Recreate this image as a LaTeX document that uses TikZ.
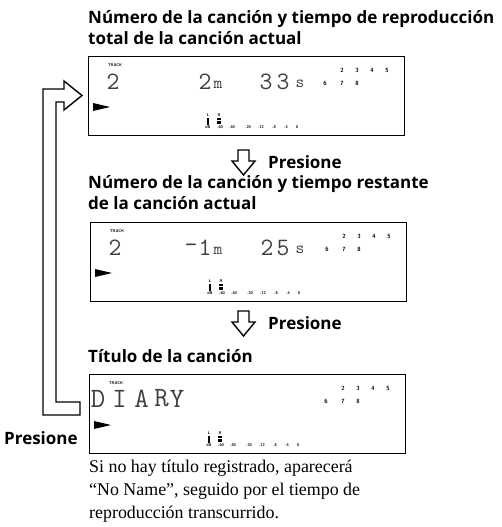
\documentclass[tikz,border=0pt]{standalone}
\usepackage{fontspec}
\newfontfamily\capfont{Open Sans}
\newfontfamily\bodyfont{Liberation Serif}
\usetikzlibrary{calc}
\newcommand\lcdcommon[1]{%
  \node[tagtxt,font=\sffamily\bfseries\fontsize{4}{4}\selectfont] (#1-trk) at (27,9) {TRACK};
  \node[tagtxt] (#1-n2) at (254,14) {2};
  \node[tagtxt] (#1-n3) at (269,14) {3};
  \node[tagtxt] (#1-n4) at (284,14) {4};
  \node[tagtxt] (#1-n5) at (299,14) {5};
  \node[tagtxt] (#1-n6) at (237,27) {6};
  \node[tagtxt] (#1-n7) at (254,27) {7};
  \node[tagtxt] (#1-n8) at (269,27) {8};
  \fill (5,47) -- (22,51) -- (5,55) -- cycle;
  \node[tinytxt] (#1-L) at (120,59.5) {L};
  \fill (118.6,62) rectangle (121.4,68.5);
  \node[tinytxt] (#1-R) at (131,59.5) {R};
  \fill (129.4,61.5) rectangle (132.6,64);
  \fill (129.4,65) rectangle (132.6,67.5);
  \node[tinytxt] (#1-s1) at (120,71) {dB};
  \node[tinytxt] (#1-s2) at (132,71) {-60};
  \node[tinytxt] (#1-s3) at (144,71) {-40};
  \node[tinytxt] (#1-s4) at (160,71) {-20};
  \node[tinytxt] (#1-s5) at (173,71) {-12};
  \node[tinytxt] (#1-s6) at (186,71) {-8};
  \node[tinytxt] (#1-s7) at (198,71) {-4};
  \node[tinytxt] (#1-s8) at (209,71) {0};
}
\begin{document}
\begin{tikzpicture}[x=1pt,y=-1pt,
  captxt/.style={anchor=base west, inner sep=0pt, font=\capfont\bfseries\fontsize{17}{20}\selectfont},
  bodytext/.style={anchor=base west, inner sep=0pt, font=\bodyfont\fontsize{17.9}{20}\selectfont},
  lcdbox/.style={draw, line width=1.1pt, inner sep=0pt, anchor=north west, minimum width=316pt, minimum height=79pt},
  segtxt/.style={inner sep=0pt, text=black!75, font=\ttfamily\fontsize{25}{25}\selectfont},
  segsm/.style={inner sep=0pt, text=black!75, font=\ttfamily\fontsize{17}{17}\selectfont},
  segdm/.style={inner sep=0pt, text=black!75, font=\ttfamily\fontsize{28}{28}\selectfont},
  tagtxt/.style={inner sep=0pt, font=\sffamily\bfseries\fontsize{6}{6}\selectfont},
  tinytxt/.style={inner sep=0pt, font=\sffamily\bfseries\fontsize{4}{4}\selectfont},
  outl/.style={draw, line width=1.4pt, line join=miter},
  downarr/.pic={\draw[outl] (-5.5,0) -- (5.5,0) -- (5.5,11) -- (11.5,11) -- (0,25) -- (-11.5,11) -- (-5.5,11) -- cycle;}
  ]
\useasboundingbox (0,0) rectangle (501,527);

% captions
\node[captxt] (c1a) at (88,24) {Número de la canción y tiempo de reproducción};
\node[captxt] (c1b) at (88,45) {total de la canción actual};
\node[captxt] (c2a) at (88,188) {Número de la canción y tiempo restante};
\node[captxt] (c2b) at (88,209) {de la canción actual};
\node[captxt] (c3) at (88,362) {Título de la canción};

% displays
\node[lcdbox] (d1) at (88,56) {};
\node[lcdbox] (d2) at (90,222) {};
\node[lcdbox] (d3) at (89,374) {};

\begin{scope}[shift={(d1.north west)}]
  \lcdcommon{a}
  \node[segtxt] (a-trkno) at (25,26) {2};
  \node[segtxt] (a-min) at (117,26) {2};
  \node[segsm] (a-m) at (130,29) {m};
  \node[segtxt] (a-s1) at (178,26) {3};
  \node[segtxt] (a-s2) at (195,26) {3};
  \node[segsm] (a-s) at (212,28) {s};
\end{scope}

\begin{scope}[shift={(d2.north west)}]
  \lcdcommon{b}
  \node[segtxt] (b-trkno) at (25,26) {2};
  \node[segtxt] (b-neg) at (101,26) {-};
  \node[segtxt] (b-min) at (115,26) {1};
  \node[segsm] (b-m) at (128,29) {m};
  \node[segtxt] (b-s1) at (177,26) {2};
  \node[segtxt] (b-s2) at (193,26) {5};
  \node[segsm] (b-s) at (210,28) {s};
\end{scope}

\begin{scope}[shift={(d3.north west)}]
  \lcdcommon{c}
  \node[segdm] (c-D) at (9,24.5) {D};
  \node[segdm] (c-I) at (30.5,24.5) {I};
  \node[segdm] (c-A) at (52.5,24.5) {A};
  \node[segdm] (c-R) at (72.5,24.5) {R};
  \node[segdm] (c-Y) at (88,24.5) {Y};
\end{scope}

% down arrows with labels
\pic at (243.5,150) {downarr};
\node[captxt] (p1) at (268,168) {Presione};
\pic at (243.5,311) {downarr};
\node[captxt] (p2) at (268,329) {Presione};

% loop-back arrow
\draw[outl] (80,415) -- (43,415) -- (43,89) -- (64,89) -- (64,81) -- (82,95.5)
  -- (64,110) -- (64,102) -- (56,102) -- (56,402) -- (80,402) -- cycle;
\node[captxt] (p3) at (4,444) {Presione};

% note
\node[bodytext] (n1) at (89,472) {Si no hay título registrado, aparecerá};
\node[bodytext] (n2) at (89,495) {“No Name”, seguido por el tiempo de};
\node[bodytext] (n3) at (89,518) {reproducción transcurrido.};
\end{tikzpicture}
\end{document}
